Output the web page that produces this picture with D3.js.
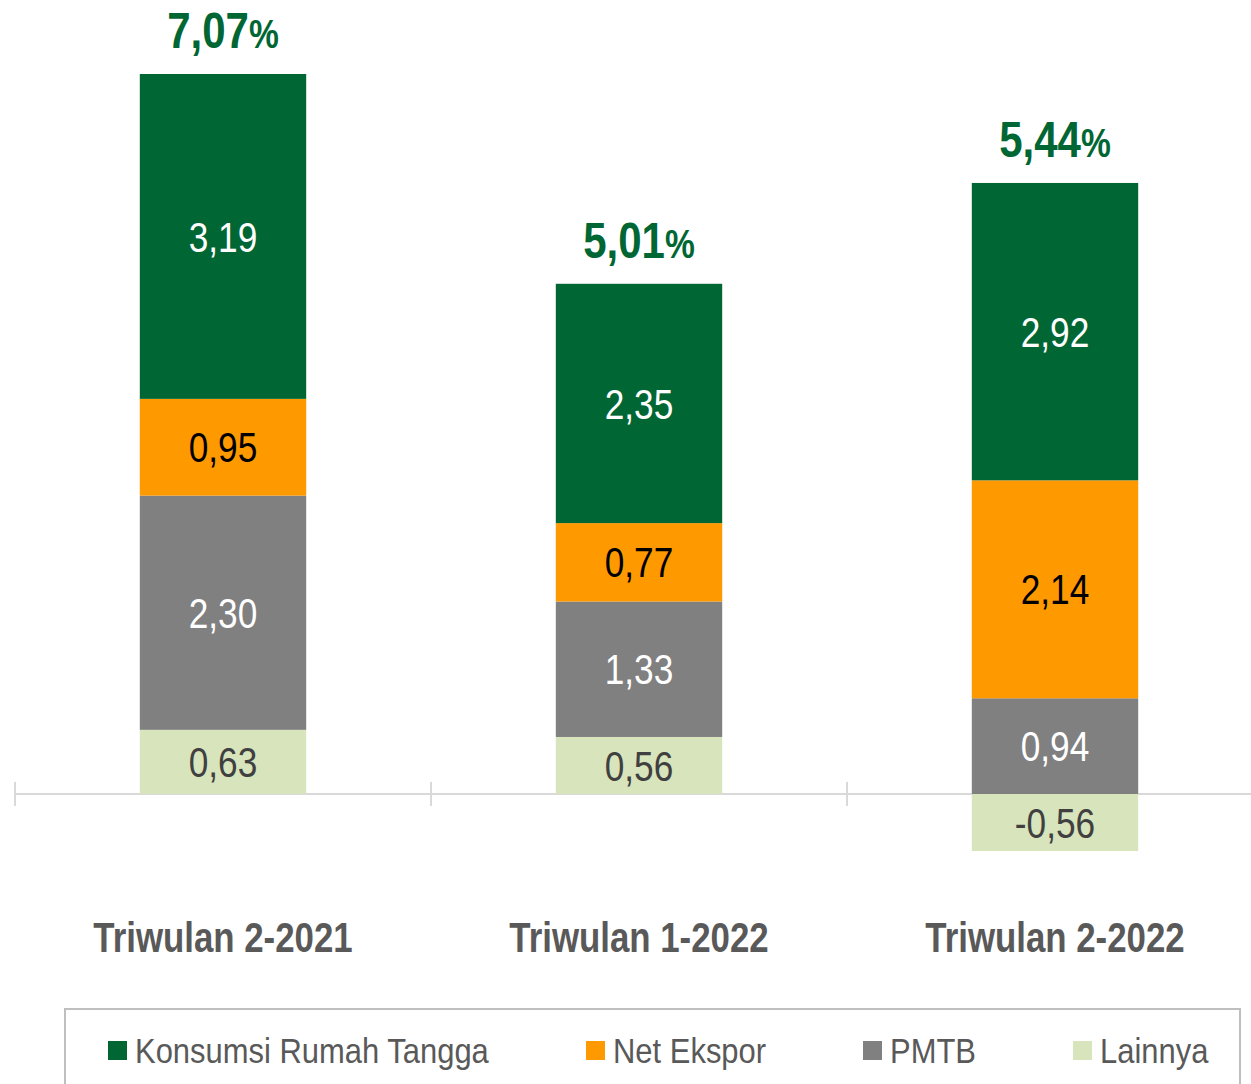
<meta charset="utf-8">
<script src='https://d3js.org/d3.v7.min.js'></script>
<body style="margin:0;background:#fff">
<script>
  const categories = ["Triwulan 2-2021", "Triwulan 1-2022", "Triwulan 2-2022"];
  const seriesNames = ["Lainnya", "PMTB", "Net Ekspor", "Konsumsi Rumah Tangga"];
  const lainnya = [0.63, 0.56, -0.56];
  const pmtb = [2.30, 1.33, 0.94];
  const netEkspor = [0.95, 0.77, 2.14];
  const konsumsi = [3.19, 2.35, 2.92];
  const totals = ["7,07", "5,01", "5,44"];
  const legendOrder = ["Konsumsi Rumah Tangga", "Net Ekspor", "PMTB", "Lainnya"];

  const colors = {
    "Konsumsi Rumah Tangga": "#006633",
    "Net Ekspor": "#ff9900",
    "PMTB": "#808080",
    "Lainnya": "#d8e4bc"
  };
  const labelColors = {
    "Konsumsi Rumah Tangga": "#ffffff",
    "Net Ekspor": "#000000",
    "PMTB": "#ffffff",
    "Lainnya": "#404040"
  };

  const font = "'Liberation Sans', Arial, sans-serif";
  const width = 1251, height = 1084;

  const rows = categories.map(function(c, i) {
    return {cat: c, "Lainnya": lainnya[i], "PMTB": pmtb[i], "Net Ekspor": netEkspor[i], "Konsumsi Rumah Tangga": konsumsi[i]};
  });

  const stack = d3.stack().keys(seriesNames).offset(d3.stackOffsetDiverging);
  const series = stack(rows);

  const x = d3.scaleBand().domain(categories).range([15, 1263]).paddingInner(0.6).paddingOuter(0.3);
  const y = d3.scaleLinear().domain([0, 7.07]).range([794, 74]);

  const svg = d3.select("body").append("svg")
    .attr("width", width).attr("height", height)
    .style("font-family", font);

  // narrow text: the original uses a condensed face, squeeze horizontally
  function narrow(tx, ty, k) {
    return "translate(" + tx + "," + ty + ") scale(" + k + ",1)";
  }

  // axis line with ticks between categories
  svg.append("line")
    .attr("x1", 15).attr("x2", width).attr("y1", y(0)).attr("y2", y(0))
    .attr("stroke", "#d9d9d9").attr("stroke-width", 2);
  const step = x.step();
  [0, 1, 2].forEach(function(i) {
    const tx = 15 + i * step;
    svg.append("line")
      .attr("x1", tx).attr("x2", tx).attr("y1", y(0) - 12).attr("y2", y(0) + 12)
      .attr("stroke", "#d9d9d9").attr("stroke-width", 2);
  });

  const g = svg.selectAll("g.series")
    .data(series)
    .enter().append("g")
    .attr("class", "series")
    .attr("fill", function(d) { return colors[d.key]; });

  g.selectAll("rect")
    .data(function(d) { return d; })
    .enter().append("rect")
    .attr("x", function(d) { return x(d.data.cat); })
    .attr("width", x.bandwidth())
    .attr("y", function(d) { return y(d[1]); })
    .attr("height", function(d) { return y(d[0]) - y(d[1]); });

  series.forEach(function(s) {
    svg.selectAll(null)
      .data(s)
      .enter().append("text")
      .attr("transform", function(d) {
        return narrow(x(d.data.cat) + x.bandwidth() / 2, (y(d[0]) + y(d[1])) / 2, 0.84);
      })
      .attr("dy", "0.36em")
      .attr("text-anchor", "middle")
      .attr("font-size", "42px")
      .attr("fill", labelColors[s.key])
      .text(function(d) { return d.data[s.key].toFixed(2).replace(".", ","); });
  });

  // totals
  const tops = series[series.length - 1];
  const tot = svg.selectAll(null)
    .data(tops)
    .enter().append("text")
    .attr("transform", function(d) {
      return narrow(x(d.data.cat) + x.bandwidth() / 2, y(d[1]) - 26, 0.84);
    })
    .attr("text-anchor", "middle")
    .attr("font-weight", "bold")
    .attr("fill", "#006633");
  tot.append("tspan").attr("font-size", "50px").text(function(d, i) { return totals[i]; });
  tot.append("tspan").attr("font-size", "40px").text("%");

  // category labels
  svg.selectAll(null)
    .data(categories)
    .enter().append("text")
    .attr("transform", function(d) { return narrow(x(d) + x.bandwidth() / 2, 952, 0.81); })
    .attr("text-anchor", "middle")
    .attr("font-size", "43px")
    .attr("font-weight", "bold")
    .attr("fill", "#595959")
    .text(function(d) { return d; });

  // legend
  svg.append("rect")
    .attr("x", 65).attr("y", 1009).attr("width", 1175).attr("height", 90)
    .attr("fill", "none").attr("stroke", "#bfbfbf").attr("stroke-width", 2);
  const legendX = [108, 586, 863, 1073];
  const lg = svg.selectAll("g.legend")
    .data(legendOrder)
    .enter().append("g")
    .attr("class", "legend")
    .attr("transform", function(d, i) { return "translate(" + legendX[i] + ",1050)"; });
  lg.append("rect")
    .attr("x", 0).attr("y", -9).attr("width", 19).attr("height", 19)
    .attr("fill", function(d) { return colors[d]; });
  lg.append("text")
    .attr("transform", narrow(27, 0, 0.86))
    .attr("dy", "0.36em")
    .attr("font-size", "36px")
    .attr("fill", "#595959")
    .text(function(d) { return d; });
</script>
</body>
